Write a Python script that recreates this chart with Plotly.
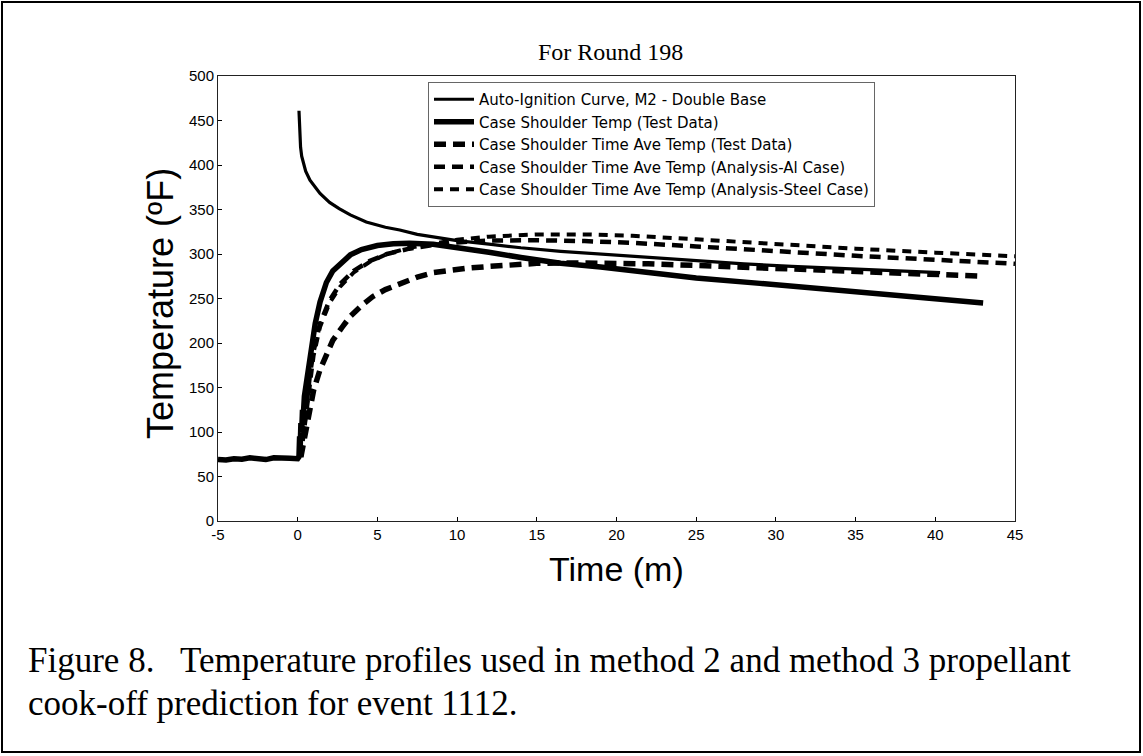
import plotly.graph_objects as go

# ---------------- data ----------------
t_auto = [0.08, 0.12, 0.18, 0.25, 0.35, 0.5, 0.77, 1.0, 1.4, 2.0, 2.6, 3.3, 4.3, 5.5, 6.4,
          7.5, 8.5, 10, 12, 14, 16.5, 19, 22, 25, 28, 31, 34, 37, 40.3]
T_auto = [461, 440, 420, 410, 402, 393, 383, 377, 368, 358, 351, 344, 336, 330, 327,
          322, 319, 315, 311, 307, 303, 300, 296, 292, 289, 286, 284, 282, 279]

t_test = [-5.0, -4.5, -4.0, -3.5, -3.0, -2.5, -2.0, -1.5, -1.0, -0.5, 0.0, 0.08, 0.12, 0.16,
          0.2, 0.25, 0.3, 0.35, 0.42, 0.5, 0.6, 0.75, 0.9, 1.1, 1.4, 1.8, 2.2, 2.8, 3.3, 4.0,
          5.0, 6.0, 7.0, 8.5, 10, 12, 14, 16.5, 19, 22.7, 25, 29, 32, 35.3, 39, 43]
T_test = [69, 68.5, 70, 69.5, 71, 70, 69, 71, 70, 70.5, 70, 72, 95, 85,
          110, 100, 125, 118, 140, 150, 165, 188, 203, 222, 246, 268, 281, 292, 299, 305,
          309.5, 311.5, 312, 311, 307.5, 302, 296, 289.5, 285.5, 277, 273, 267, 262, 257.5, 251, 245]

t_ave = [0.2, 0.35, 0.5, 0.77, 1.0, 1.4, 1.8, 2.2, 2.8, 3.3, 4.0, 4.7, 5.5, 6.4, 7.5, 8.5,
         9.5, 10.6, 12, 13.5, 15, 17, 19, 22, 26, 30, 35, 40, 43]
T_ave = [72, 85, 100, 125, 147, 170, 188, 203, 218, 230, 242, 252, 260, 267, 274, 279,
         282, 284, 286, 288, 289.5, 290, 290, 289, 286.5, 284, 280.5, 277.5, 275]

t_model = [0.2, 0.35, 0.5, 0.77, 1.0, 1.4, 2.0, 2.65, 3.5, 4.5, 5.6, 7.0, 8.5, 10, 12, 15,
           18, 21, 25, 30, 35, 40, 45]
T_al = [72, 98, 122, 165, 191, 222, 248, 266, 281, 292, 300, 306, 310, 313, 315, 315.5,
        314.5, 312.5, 308.5, 303, 298, 293.5, 289]
T_steel = [72, 95, 118, 160, 186, 218, 245, 263, 279, 291, 300, 307, 312, 316, 319.5, 322,
           322, 320.5, 316.5, 311, 306, 301.5, 297.5]

x_ticks = [-5, 0, 5, 10, 15, 20, 25, 30, 35, 40, 45]
y_ticks = [0, 50, 100, 150, 200, 250, 300, 350, 400, 450, 500]

names = [
    "Auto-Ignition Curve, M2 - Double Base",
    "Case Shoulder Temp (Test Data)",
    "Case Shoulder Time Ave Temp (Test Data)",
    "Case Shoulder Time Ave Temp (Analysis-Al Case)",
    "Case Shoulder Time Ave Temp (Analysis-Steel Case)",
]

title_text = "For Round 198"
x_title = "Time (m)"
y_title = "Temperature (ºF)"
caption1 = "Figure 8.   Temperature profiles used in method 2 and method 3 propellant"
caption2 = "cook-off prediction for event 1112."

# ---------------- figure ----------------
W, H = 1143, 756
L, R, T, B = 218, 1015, 76, 521


def px(x):
    return (x - L) / (R - L)


def py(y):
    return (B - y) / (B - T)


fig = go.Figure()
fig.add_trace(go.Scatter(x=t_auto, y=T_auto, mode="lines", name=names[0],
                         line=dict(color="black", width=3.2)))
fig.add_trace(go.Scatter(x=t_test, y=T_test, mode="lines", name=names[1],
                         line=dict(color="black", width=5.5)))
fig.add_trace(go.Scatter(x=t_ave, y=T_ave, mode="lines", name=names[2],
                         line=dict(color="black", width=5.5, dash="12px,7px")))
fig.add_trace(go.Scatter(x=t_model, y=T_al, mode="lines", name=names[3],
                         line=dict(color="black", width=4.5, dash="11px,7px")))
fig.add_trace(go.Scatter(x=t_model, y=T_steel, mode="lines", name=names[4],
                         line=dict(color="black", width=4, dash="9px,7px")))

axis_font = dict(family="Liberation Sans, Arial", size=15, color="black")

fig.update_layout(
    width=W, height=H,
    margin=dict(l=L, r=W - R, t=T, b=H - B, pad=0),
    paper_bgcolor="white", plot_bgcolor="white",
    showlegend=True,
    legend=dict(x=px(428), y=py(82), xanchor="left", yanchor="top",
                bgcolor="white", bordercolor="#666", borderwidth=1,
                font=dict(family="DejaVu Sans, Liberation Sans, Arial", size=15, color="black"),
                tracegroupgap=0, itemwidth=40),
    xaxis=dict(range=[-5, 45], tickvals=x_ticks, ticktext=[str(v) for v in x_ticks],
               showgrid=False, zeroline=False, showline=True, linecolor="#222", linewidth=1,
               mirror=True, ticks="inside", ticklen=4, tickcolor="black",
               tickfont=axis_font),
    yaxis=dict(range=[0, 500], tickvals=y_ticks, ticktext=[str(v) for v in y_ticks],
               showgrid=False, zeroline=False, showline=True, linecolor="#222", linewidth=1,
               mirror=True, ticks="inside", ticklen=4, tickcolor="black",
               tickfont=axis_font),
)

serif = "Liberation Serif, Times New Roman, serif"
sans = "Liberation Sans, Arial, sans-serif"
annotations = [
    dict(text=title_text, x=px(610), y=py(52), xref="paper", yref="paper",
         xanchor="center", yanchor="middle", showarrow=False,
         font=dict(family=serif, size=24, color="black")),
    dict(text=x_title, x=0.5, y=py(569), xref="paper", yref="paper",
         xanchor="center", yanchor="middle", showarrow=False,
         font=dict(family=sans, size=34, color="black")),
    dict(text=y_title, x=px(160), y=py(304), xref="paper", yref="paper",
         xanchor="center", yanchor="middle", showarrow=False, textangle=-90,
         font=dict(family=sans, size=36, color="black")),
    dict(text=caption1, x=px(26), y=py(660), xref="paper", yref="paper",
         xanchor="left", yanchor="middle", showarrow=False,
         font=dict(family=serif, size=35, color="black")),
    dict(text=caption2, x=px(26), y=py(703), xref="paper", yref="paper",
         xanchor="left", yanchor="middle", showarrow=False,
         font=dict(family=serif, size=35, color="black")),
]
fig.update_layout(annotations=annotations)

fig.add_shape(type="rect", xref="paper", yref="paper",
              x0=px(2), x1=px(1140), y0=py(752), y1=py(2),
              line=dict(color="black", width=2), fillcolor="rgba(0,0,0,0)")

# remove the default page margin so the figure sits at the window origin
fig.write_html("out.html",
               config={"displayModeBar": False},
               post_script="document.body.style.margin='0';document.body.style.overflow='hidden';")
